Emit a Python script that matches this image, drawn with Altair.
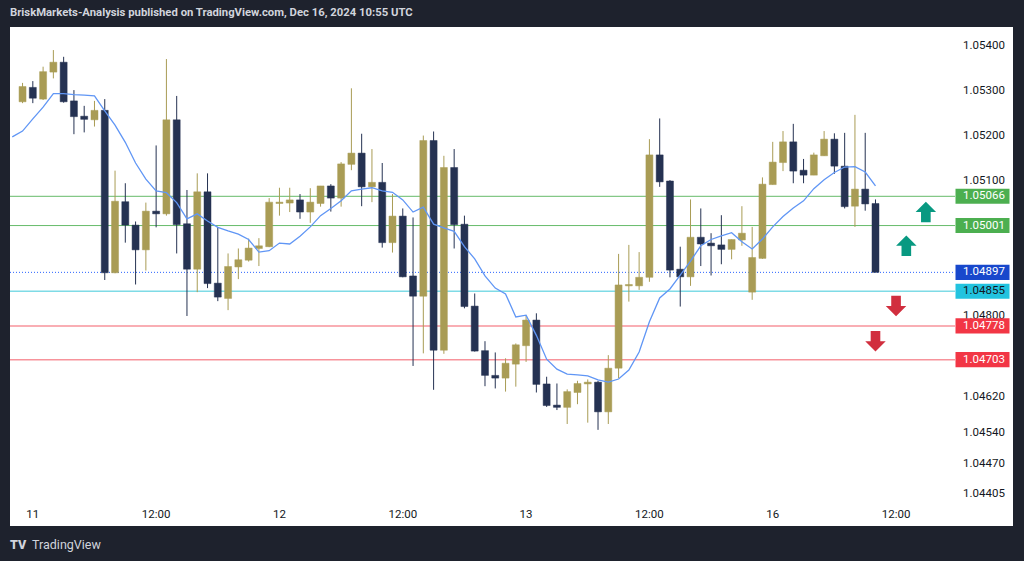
import altair as alt
import pandas as pd

# ---------------- data ----------------
first_index = -1  # hourly candles, index 0 = Dec 11 00:00
opens = [1.05276, 1.05308, 1.05282, 1.05342, 1.05364, 1.05278, 1.05244, 1.05236, 1.05257, 1.04896,
         1.05054, 1.05002, 1.04947, 1.05033, 1.05027, 1.05236, 1.05005, 1.04904, 1.05076, 1.04873,
         1.04839, 1.04909, 1.04924, 1.04950, 1.04954, 1.05050, 1.05051, 1.05058, 1.05031, 1.05050,
         1.05089, 1.05062, 1.05137, 1.05162, 1.05087, 1.05097, 1.04963, 1.05022, 1.04889, 1.04844,
         1.05190, 1.04724, 1.05130, 1.05004, 1.04822, 1.04723, 1.04668, 1.04662, 1.04693, 1.04734,
         1.04791, 1.04649, 1.04602, 1.04597, 1.04630, 1.04649, 1.04653, 1.04587, 1.04684, 1.04867,
         1.04867, 1.04886, 1.05158, 1.05100, 1.04904, 1.04887, 1.04975, 1.04962, 1.04958, 1.04948,
         1.04969, 1.04853, 1.04928, 1.05092, 1.05141, 1.05187, 1.05124, 1.05113, 1.05156, 1.05193,
         1.05133, 1.05044, 1.05082, 1.05050]
highs = [1.05318, 1.05322, 1.05354, 1.05391, 1.05376, 1.05302, 1.05267, 1.05278, 1.05282, 1.05123,
         1.05095, 1.05010, 1.05052, 1.05179, 1.05371, 1.05289, 1.05080, 1.05117, 1.05117, 1.04998,
         1.04939, 1.04950, 1.04972, 1.04973, 1.05062, 1.05085, 1.05085, 1.05071, 1.05084, 1.05089,
         1.05093, 1.05142, 1.05306, 1.05205, 1.05171, 1.05140, 1.05071, 1.05039, 1.05019, 1.05201,
         1.05210, 1.05156, 1.05171, 1.05023, 1.04850, 1.04744, 1.04719, 1.04706, 1.04739, 1.04800,
         1.04806, 1.04665, 1.04650, 1.04637, 1.04656, 1.04659, 1.04656, 1.04713, 1.04938, 1.04958,
         1.04942, 1.05193, 1.05239, 1.05102, 1.04954, 1.05059, 1.05039, 1.04984, 1.05024, 1.04970,
         1.05044, 1.04998, 1.05108, 1.05187, 1.05211, 1.05227, 1.05149, 1.05163, 1.05211, 1.05206,
         1.05207, 1.05247, 1.05207, 1.05059]
lows = [1.05273, 1.05273, 1.05280, 1.05328, 1.05274, 1.05204, 1.05208, 1.05221, 1.04880, 1.04895,
        1.04963, 1.04870, 1.04901, 1.04997, 1.05023, 1.04939, 1.04800, 1.04853, 1.04862, 1.04833,
        1.04813, 1.04882, 1.04921, 1.04911, 1.04953, 1.05023, 1.05031, 1.05016, 1.05007, 1.05043,
        1.05032, 1.05043, 1.05124, 1.05044, 1.05053, 1.04952, 1.04941, 1.04886, 1.04689, 1.04717,
        1.04636, 1.04716, 1.04950, 1.04817, 1.04721, 1.04644, 1.04639, 1.04632, 1.04643, 1.04698,
        1.04630, 1.04598, 1.04591, 1.04560, 1.04604, 1.04563, 1.04547, 1.04560, 1.04662, 1.04832,
        1.04858, 1.04876, 1.05087, 1.04886, 1.04821, 1.04867, 1.04911, 1.04890, 1.04915, 1.04926,
        1.04956, 1.04836, 1.04927, 1.05092, 1.05122, 1.05095, 1.05095, 1.05113, 1.05156, 1.05116,
        1.05039, 1.04998, 1.05034, 1.04897]
closes = [1.05310, 1.05284, 1.05343, 1.05364, 1.05276, 1.05243, 1.05237, 1.05257, 1.04896, 1.05055,
          1.05002, 1.04947, 1.05033, 1.05027, 1.05236, 1.05003, 1.04904, 1.05076, 1.04872, 1.04842,
          1.04910, 1.04925, 1.04951, 1.04956, 1.05053, 1.05053, 1.05058, 1.05031, 1.05053, 1.05089,
          1.05062, 1.05138, 1.05162, 1.05087, 1.05097, 1.04963, 1.05022, 1.04887, 1.04844, 1.05190,
          1.04724, 1.05130, 1.05003, 1.04821, 1.04722, 1.04668, 1.04662, 1.04695, 1.04736, 1.04791,
          1.04648, 1.04601, 1.04597, 1.04632, 1.04650, 1.04653, 1.04587, 1.04684, 1.04869, 1.04870,
          1.04886, 1.05158, 1.05098, 1.04902, 1.04887, 1.04975, 1.04960, 1.04956, 1.04948, 1.04970,
          1.04984, 1.04930, 1.05093, 1.05142, 1.05187, 1.05122, 1.05113, 1.05158, 1.05193, 1.05133,
          1.05043, 1.05082, 1.05049, 1.04897]

ma_first_index = -2
ma_values = [1.05198, 1.05211, 1.05238, 1.05264, 1.05294, 1.05294, 1.05292, 1.05291, 1.05289, 1.05256,
             1.05224, 1.05186, 1.05140, 1.05104, 1.05078, 1.05074, 1.05052, 1.05016, 1.05027, 1.05011,
             1.04997, 1.04989, 1.04982, 1.04970, 1.04942, 1.04945, 1.04962, 1.04960, 1.04977, 1.04998,
             1.05023, 1.05039, 1.05056, 1.05078, 1.05082, 1.05085, 1.05078, 1.05075, 1.05058, 1.05031,
             1.05042, 1.05004, 1.04996, 1.04988, 1.04954, 1.04927, 1.04889, 1.04862, 1.04849, 1.04798,
             1.04802, 1.04757, 1.04704, 1.04682, 1.04671, 1.04669, 1.04667, 1.04658, 1.04653, 1.04660,
             1.04680, 1.04720, 1.04787, 1.04840, 1.04860, 1.04891, 1.04922, 1.04956, 1.04970, 1.04978,
             1.04985, 1.04965, 1.04949, 1.04971, 1.04998, 1.05021, 1.05040, 1.05056, 1.05083, 1.05103,
             1.05119, 1.05131, 1.05132, 1.05120, 1.05089]

level_prices = [1.05066, 1.05001, 1.04897, 1.04855, 1.04778, 1.04703]
level_kinds = ["resistance", "resistance", "last", "pivot", "support", "support"]

price_ticks = [1.05400, 1.05300, 1.05200, 1.05100, 1.04800, 1.04620, 1.04540, 1.04470, 1.04405]

time_tick_pos = [0, 12, 24, 36, 48, 60, 72, 84]
time_tick_labels = ["11", "12:00", "12", "12:00", "13", "12:00", "16", "12:00"]

up_arrow_x = [86.9, 85.0]
up_arrow_y = [1.05031, 1.04956]
down_arrow_x = [84.0, 82.0]
down_arrow_y = [1.04822, 1.04744]

title_text = "BriskMarkets-Analysis published on TradingView.com, Dec 16, 2024 10:55 UTC"

# ---------------- tables ----------------
candles = pd.DataFrame({
    "i": list(range(first_index, first_index + len(opens))),
    "open": opens, "high": highs, "low": lows, "close": closes,
})
candles["dir"] = ["up" if c >= o else "down" for o, c in zip(opens, closes)]
ma = pd.DataFrame({"i": list(range(ma_first_index, ma_first_index + len(ma_values))), "ma": ma_values})
levels = pd.DataFrame({"price": level_prices, "kind": level_kinds})
pticks = pd.DataFrame({"price": price_ticks})
tticks = pd.DataFrame({"i": time_tick_pos, "label": time_tick_labels})
ups = pd.DataFrame({"i": up_arrow_x, "price": up_arrow_y})
downs = pd.DataFrame({"i": down_arrow_x, "price": down_arrow_y})

# ---------------- styling ----------------
W, H = 1003, 499
FONT = "Roboto"
GOLD, NAVY = "#a99c55", "#253252"
xs = alt.Scale(domain=[-1.734, 94.894], nice=False, zero=False)
ys = alt.Scale(domain=[1.0433333, 1.0544222], nice=False, zero=False)
dir_color = alt.Color("dir:N", scale=alt.Scale(domain=["up", "down"], range=[GOLD, NAVY]), legend=None)


def X(f):
    return alt.X(f, scale=xs, axis=None)


def Y(f):
    return alt.Y(f, scale=ys, axis=None)


base_c = alt.Chart(candles)
wicks = base_c.mark_rule(strokeWidth=1, clip=True).encode(x=X("i:Q"), y=Y("low:Q"), y2="high:Q", color=dir_color)
bodies = base_c.mark_bar(size=7, clip=True, strokeWidth=0.8, strokeOpacity=0.6).encode(
    x=X("i:Q"), y=Y("open:Q"), y2="close:Q", color=dir_color, stroke=dir_color)

ma_line = alt.Chart(ma).mark_line(color="#6096f5", strokeWidth=1.3, clip=True).encode(x=X("i:Q"), y=Y("ma:Q"))

# level styles: rule, box fill, box text colour
level_styles = {
    "resistance": (dict(color="#66bb6a", strokeWidth=1), "#4caf50", "#ffffff"),
    "last": (dict(color="#2962ff", strokeWidth=1, strokeDash=[1, 2]), "#1848cc", "#ffffff"),
    "pivot": (dict(color="#7fdbe6", strokeWidth=1.5), "#22c3df", "#131722"),
    "support": (dict(color="#f7939b", strokeWidth=1.5), "#f23645", "#ffffff"),
}
BOX = "M-1,-0.28L1,-0.28L1,0.28L-1,0.28Z"
rules, boxes, box_labels = [], [], []
for k, (rst, fill, tcol) in level_styles.items():
    src = alt.Chart(levels).transform_filter(alt.datum.kind == k)
    rules.append(src.mark_rule(**rst).encode(x=alt.value(0), x2=alt.value(945), y=Y("price:Q")))
    boxes.append(src.mark_point(shape=BOX, size=2916, filled=True, opacity=1, strokeWidth=0, color=fill).encode(
        x=alt.value(972.5), y=Y("price:Q")))
    box_labels.append(src.mark_text(font=FONT, fontSize=11.5, align="center", baseline="middle", color=tcol).encode(
        x=alt.value(974), y=Y("price:Q"), text=alt.Text("price:Q", format=".5f")))

tick_labels = alt.Chart(pticks).mark_text(font=FONT, fontSize=11.5, align="center", baseline="middle", color="#131722").encode(
    x=alt.value(974), y=Y("price:Q"), text=alt.Text("price:Q", format=".5f"))

time_labels = alt.Chart(tticks).mark_text(font=FONT, fontSize=11.5, align="center", baseline="middle", color="#131722").encode(
    x=X("i:Q"), y=alt.value(488), text="label:N")

UP = "M0,-1L1,0L0.47,0L0.47,1L-0.47,1L-0.47,0L-1,0Z"
DOWN = "M0,1L1,0L0.47,0L0.47,-1L-0.47,-1L-0.47,0L-1,0Z"
up_arrows = alt.Chart(ups).mark_point(shape=UP, size=420, filled=True, opacity=1, strokeWidth=0, color="#089981").encode(
    x=X("i:Q"), y=Y("price:Q"))
down_arrows = alt.Chart(downs).mark_point(shape=DOWN, size=420, filled=True, opacity=1, strokeWidth=0, color="#d12e3e").encode(
    x=X("i:Q"), y=Y("price:Q"))

title = alt.Chart(pd.DataFrame({"t": [title_text]})).mark_text(
    font=FONT, fontSize=11.3, fontWeight="bold", align="left", baseline="middle", color="#d1d4dc"
).encode(x=alt.value(0), y=alt.value(-14), text="t:N")
logo_mark = alt.Chart(pd.DataFrame({"t": ["TV"]})).mark_text(
    font=FONT, fontSize=12.5, fontWeight=900, align="left", baseline="middle", color="#d1d4dc"
).encode(x=alt.value(0), y=alt.value(518), text="t:N")
logo_text = alt.Chart(pd.DataFrame({"t": ["TradingView"]})).mark_text(
    font=FONT, fontSize=12.5, align="left", baseline="middle", color="#d1d4dc"
).encode(x=alt.value(22), y=alt.value(518), text="t:N")

chart = alt.layer(
    *rules, wicks, bodies, ma_line, tick_labels, *boxes, *box_labels, time_labels,
    up_arrows, down_arrows, title, logo_mark, logo_text
).properties(
    width=W, height=H,
    autosize=alt.AutoSizeParams(type="none"),
    padding={"left": 10, "top": 27, "right": 11, "bottom": 35},
    background="#1e222d",
).configure_view(fill="white", stroke=None)

chart.save("out.html", embed_options={"renderer": "svg", "actions": False})
